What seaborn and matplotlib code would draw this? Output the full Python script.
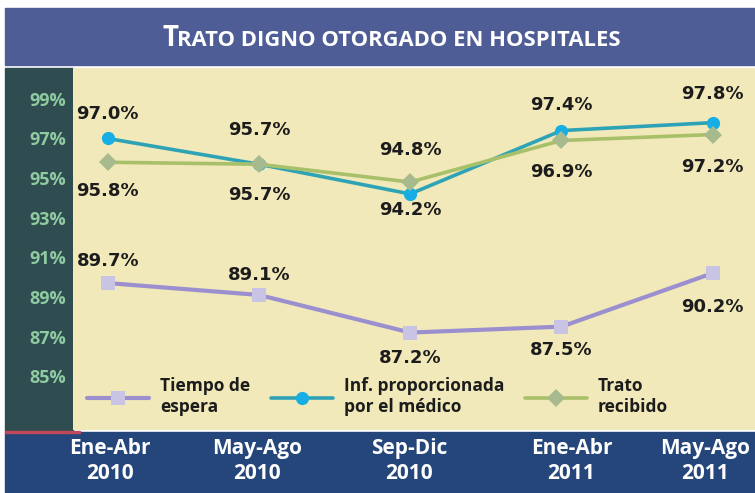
import matplotlib
matplotlib.use("Agg")
import matplotlib.pyplot as plt
import matplotlib.transforms as mtransforms
from matplotlib.patches import Rectangle
import seaborn as sns

# data
periodos = ["Ene-Abr\n2010", "May-Ago\n2010", "Sep-Dic\n2010", "Ene-Abr\n2011", "May-Ago\n2011"]
tiempo_espera = [89.7, 89.1, 87.2, 87.5, 90.2]
inf_medico = [97.0, 95.7, 94.2, 97.4, 97.8]
trato_recibido = [95.8, 95.7, 94.8, 96.9, 97.2]
y_ticks = [85, 87, 89, 91, 93, 95, 97, 99]

sns.set_style("white")
plt.rcParams["font.family"] = ["Open Sans", "DejaVu Sans"]

W, H = 755, 493
fig = plt.figure(figsize=(W / 100, H / 100), dpi=100)
fig.patch.set_facecolor("white")

def px(x0, y0, x1, y1):
    # pixel box -> figure fraction rect
    return (x0 / W, 1 - y1 / H, (x1 - x0) / W, (y1 - y0) / H)

def band(x0, y0, x1, y1, color, z=-1):
    r = px(x0, y0, x1, y1)
    fig.patches.append(Rectangle(r[:2], r[2], r[3], transform=fig.transFigure,
                                 color=color, zorder=z))

# background panels
band(5, 8, 755, 65, "#4f5d97")
band(5, 68, 73, 431, "#2f4d51")
band(5, 432, 755, 493, "#25467a")
band(5, 431, 80, 433, "#c0485a", z=1)

ax = fig.add_axes(px(73, 68, 755, 430))
ax.set_facecolor("#f1e9b9")

x = list(range(len(periodos)))

sns.lineplot(x=x, y=tiempo_espera, ax=ax, color="#9b8fd0", linewidth=3,
             marker="s", markersize=9.5, markerfacecolor="#c9c3e4",
             markeredgewidth=0, label="Tiempo de\nespera")
sns.lineplot(x=x, y=inf_medico, ax=ax, color="#2fa3b6", linewidth=2.6,
             marker="o", markersize=9.5, markerfacecolor="#17aee6",
             markeredgewidth=0, label="Inf. proporcionada\npor el médico")
sns.lineplot(x=x, y=trato_recibido, ax=ax, color="#a9c06a", linewidth=2.6,
             marker="D", markersize=9.5, markerfacecolor="#a6ba8d",
             markeredgewidth=0, label="Trato\nrecibido")

ax.set_xlim(-0.23, 4.28)
ax.set_ylim(82.28, 100.56)

# value labels (pixel offsets from each point)
offsets = {
    "tiempo": [22, 20, -25, -23, -34],
    "inf": [24, 34, -16, 26, 29],
    "trato": [-29, -31, 32, -32, -32],
}
for vals, key in [(tiempo_espera, "tiempo"), (inf_medico, "inf"), (trato_recibido, "trato")]:
    for xi, v, dy in zip(x, vals, offsets[key]):
        ax.annotate(f"{v:.1f}%", (xi, v), xytext=(0, dy), textcoords="offset pixels",
                    ha="center", va="center", fontsize=13, fontweight="bold",
                    color="#1c1c1c", family="DejaVu Sans")

ax.set_xticks(x)
ax.set_xticklabels(periodos, fontsize=15, fontweight="bold", color="white",
                   linespacing=1.2)
ax.set_yticks(y_ticks)
ax.set_yticklabels([f"{t}%" for t in y_ticks], fontsize=13, fontweight="bold",
                   color="#8fcaa0")
ax.tick_params(axis="x", length=0, pad=6)
ax.tick_params(axis="y", length=0, pad=5)
for s in ax.spines.values():
    s.set_visible(False)
ax.set_xlabel("")
ax.set_ylabel("")

# nudge the x labels like the reference
nudges = [2, -2, -1, 10, -8]
for lab, dx in zip(ax.get_xticklabels(), nudges):
    lab.set_transform(lab.get_transform() + mtransforms.ScaledTranslation(dx / 100, 0, fig.dpi_scale_trans))

h, l = ax.get_legend_handles_labels()
leg = ax.legend(h, l, ncol=3, loc="lower left", bbox_to_anchor=(0.0, 0.0),
                frameon=False, handlelength=3.6, handletextpad=0.6,
                columnspacing=1.2, borderaxespad=0.4,
                prop={"weight": "bold", "size": 12.5})
for t in leg.get_texts():
    t.set_color("#1c1c1c")

# title with small-caps look
fig.text(0.215, 1 - 46 / H, "T", fontsize=20, fontweight="bold",
         color="white", va="baseline", ha="left")
fig.text(0.215 + 0.020, 1 - 46 / H, "RATO DIGNO OTORGADO EN HOSPITALES",
         fontsize=15.8, fontweight="bold", color="white", va="baseline", ha="left")

fig.savefig("out.png", dpi=100)
